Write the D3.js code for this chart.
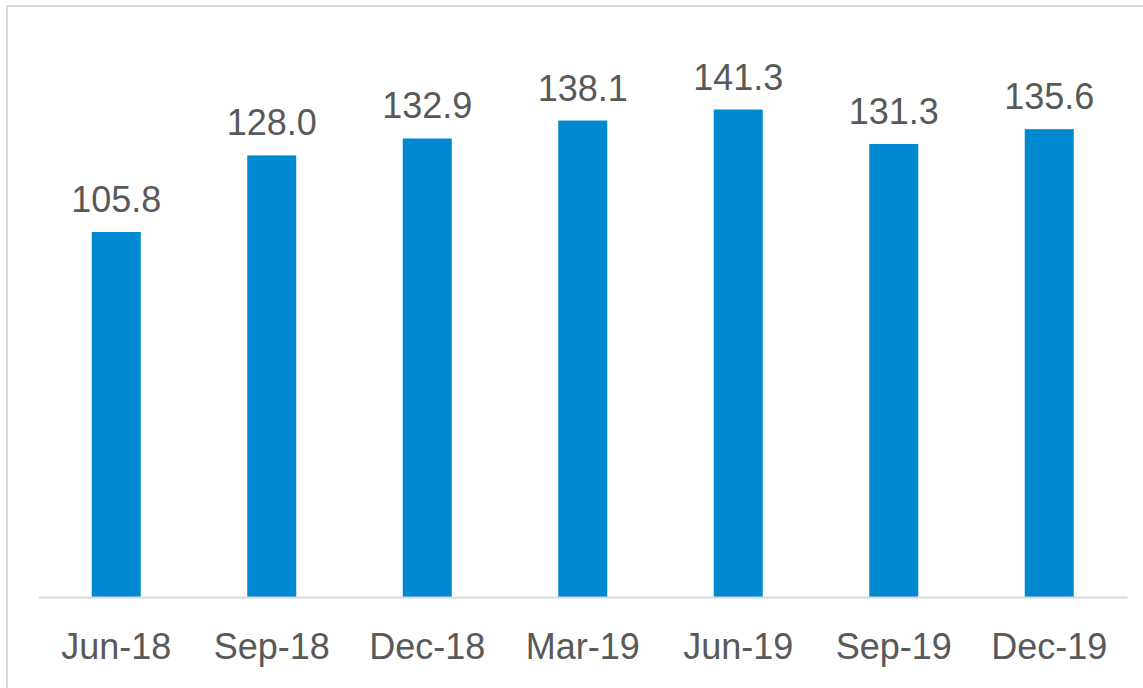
<!DOCTYPE html>
<html>
<head>
<meta charset="utf-8">
<script src="https://cdn.jsdelivr.net/npm/d3@7"></script>
<style>
  html, body { margin: 0; padding: 0; background: #fff; }
  svg { display: block; }
</style>
</head>
<body>
<svg id="chart" width="1143" height="688"></svg>
<script>
// Quarterly values
const categories = ["Jun-18", "Sep-18", "Dec-18", "Mar-19", "Jun-19", "Sep-19", "Dec-19"];
const values = [105.8, 128.0, 132.9, 138.1, 141.3, 131.3, 135.6];

const svg = d3.select("#chart");
const W = 1143, H = 688;
const fontFamily = "'Liberation Sans', Arial, sans-serif";

// Outer frame (top and left edges visible)
svg.append("path")
  .attr("d", `M7,${H} L7,6 L${W},6`)
  .attr("fill", "none")
  .attr("stroke", "#d9d9d9")
  .attr("stroke-width", 2);

const plot = { left: 38.5, right: 1127, top: 45, bottom: 597 };

const x = d3.scaleBand()
  .domain(categories)
  .range([plot.left, plot.right])
  .paddingInner(0.685)
  .paddingOuter(0.3425);

const y = d3.scaleLinear()
  .domain([0, 160])
  .range([plot.bottom, plot.top]);

const data = categories.map((c, i) => ({ c, v: values[i] }));

// Bars
svg.append("g").selectAll("rect")
  .data(data)
  .join("rect")
  .attr("x", d => x(d.c))
  .attr("y", d => y(d.v))
  .attr("width", x.bandwidth())
  .attr("height", d => y(0) - y(d.v))
  .attr("fill", "#0088d1");

// Value labels
svg.append("g").selectAll("text")
  .data(data)
  .join("text")
  .attr("x", d => x(d.c) + x.bandwidth() / 2)
  .attr("y", d => y(d.v) - 20)
  .attr("text-anchor", "middle")
  .attr("font-family", fontFamily)
  .attr("font-size", 36)
  .attr("fill", "#595959")
  .text(d => d.v.toFixed(1));

// Category axis
const xAxis = svg.append("g")
  .attr("transform", `translate(0,${plot.bottom})`)
  .call(d3.axisBottom(x).tickSize(0).tickPadding(0));
xAxis.select(".domain")
  .attr("stroke", "#d9d9d9")
  .attr("stroke-width", 2);
xAxis.selectAll("text")
  .attr("font-family", fontFamily)
  .attr("font-size", 36)
  .attr("fill", "#595959")
  .attr("dy", null)
  .attr("y", 62);
</script>
</body>
</html>
